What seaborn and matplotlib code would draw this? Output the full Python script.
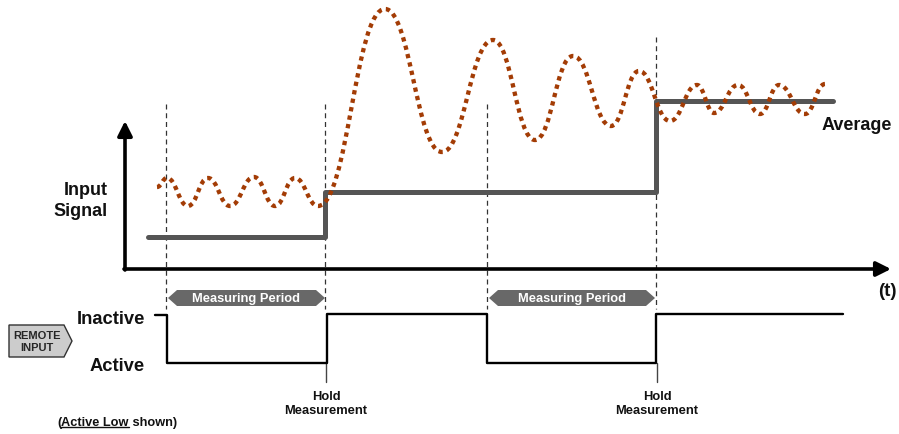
import numpy as np
import pandas as pd
import matplotlib
matplotlib.use("Agg")
import matplotlib.pyplot as plt
import seaborn as sns
from matplotlib import font_manager
from matplotlib.path import Path
from matplotlib.patches import PathPatch, Polygon

# time axis runs left to right, level axis runs top to bottom (inverted)
signal_t = [157, 167, 188, 208, 230, 254, 275, 295, 318, 385, 442, 493,
            535, 573, 611, 639, 670, 697, 714, 738, 760, 779, 805, 825]
signal_v = [188, 179, 207, 179, 207, 178, 207, 179, 207, 10, 153, 41,
            141, 57, 127, 72, 122, 86, 114, 86, 115, 86, 115, 85]

avg_t = [148, 325, 656, 833]
avg_v = [238, 193, 102, 102]

remote_t = [155, 167, 327, 487, 656, 843]
remote_v = [316, 364, 315, 364, 315, 315]

marker_t = [166, 325, 487, 656]
marker_top = [105, 105, 105, 38]
period_start = [168, 489]
period_end = [325, 655]
hold_t = [326, 657]

names = {f.name for f in font_manager.fontManager.ttflist}
fam = [f for f in ['Liberation Sans Narrow', 'Liberation Sans', 'DejaVu Sans'] if f in names]

sns.set_theme(style="white")
plt.rcParams['font.family'] = fam

fig = plt.figure(figsize=(8.99, 4.35), dpi=100)
ax = fig.add_axes([0, 0, 1, 1])
ax.set_xlim(0, 899)
ax.set_ylim(435, 0)
ax.axis('off')

# dashed time markers
for t, top in zip(marker_t, marker_top):
    ax.plot([t, t], [top, 310], color='#333333', lw=0.9, ls=(0, (4, 3)), zorder=1)
for t in hold_t:
    ax.plot([t, t], [364, 383], color='#444444', lw=1.0, zorder=1)

# axes arrows
ax.annotate('', xy=(125, 122), xytext=(125, 271),
            arrowprops=dict(arrowstyle='-|>', lw=2.6, color='black', mutation_scale=22, shrinkA=0, shrinkB=0))
ax.annotate('', xy=(891, 270), xytext=(124, 270),
            arrowprops=dict(arrowstyle='-|>', lw=2.6, color='black', mutation_scale=22, shrinkA=0, shrinkB=0))

# average step
avg_df = pd.DataFrame({'t': avg_t, 'v': avg_v})
sns.lineplot(data=avg_df, x='t', y='v', ax=ax, color='#555555', lw=3.6,
             drawstyle='steps-post', sort=False, zorder=3)

# input signal as smooth curve through the read extrema
verts = [(signal_t[0], signal_v[0])]
codes = [Path.MOVETO]
for i in range(1, len(signal_t)):
    x0, y0 = signal_t[i - 1], signal_v[i - 1]
    x1, y1 = signal_t[i], signal_v[i]
    dx = (x1 - x0) * 0.45
    verts += [(x0 + dx, y0), (x1 - dx, y1), (x1, y1)]
    codes += [Path.CURVE4] * 3
ax.add_patch(PathPatch(Path(verts, codes), fill=False, edgecolor='#A33C05',
                       lw=3.1, ls=(0, (1.0, 1.0)), capstyle='butt', zorder=4))

# remote input
rem_df = pd.DataFrame({'t': remote_t, 'v': remote_v})
sns.lineplot(data=rem_df, x='t', y='v', ax=ax, color='black', lw=1.7,
             drawstyle='steps-post', sort=False, zorder=3)

# measuring period arrows
for a, b in zip(period_start, period_end):
    yc, h, tip = 299, 8, 9
    ax.add_patch(Polygon([(a, yc), (a + tip, yc - h), (b - tip, yc - h), (b, yc),
                          (b - tip, yc + h), (a + tip, yc + h)], closed=True,
                         facecolor='#686868', edgecolor='none', zorder=5))
    ax.text((a + b) / 2, yc + 0.5, 'Measuring Period', color='white', fontsize=9.3,
            fontweight='bold', ha='center', va='center', zorder=6)

# remote input tag
ax.add_patch(Polygon([(9, 326), (64, 326), (72, 342), (64, 358), (9, 358)], closed=True,
                     facecolor='#cccccc', edgecolor='#333333', lw=1.0, zorder=5))
ax.text(37, 342, 'REMOTE\nINPUT', fontsize=8.0, fontweight='bold', ha='center',
        va='center', linespacing=1.2, zorder=6)

bold = dict(fontweight='bold', color='#111111')
ax.text(108, 201, 'Input\nSignal', fontsize=13, ha='right', va='center', linespacing=1.3, **bold)
ax.text(145, 320, 'Inactive', fontsize=13.2, ha='right', va='center', **bold)
ax.text(145, 367, 'Active', fontsize=13.2, ha='right', va='center', **bold)
ax.text(857, 125, 'Average', fontsize=13, ha='center', va='center', **bold)
ax.text(887, 292, '(t)', fontsize=13.5, ha='center', va='center', **bold)
for t in hold_t:
    ax.text(t, 404, 'Hold\nMeasurement', fontsize=9.3, ha='center', va='center',
            linespacing=1.3, **bold)

t1 = ax.text(57, 423, '(', fontsize=9.2, ha='left', va='center', **bold)
t2 = ax.annotate('Active Low', xy=(1, 0), xycoords=t1, va='bottom', ha='left', fontsize=9.2, **bold)
t3 = ax.annotate(' shown)', xy=(1, 0), xycoords=t2, va='bottom', ha='left', fontsize=9.2, **bold)
fig.canvas.draw()
bb = t2.get_window_extent()
inv = ax.transData.inverted()
(ux0, uy), (ux1, _) = inv.transform([(bb.x0, bb.y0 + 1), (bb.x1, bb.y0 + 1)])
ax.plot([ux0, ux1], [uy, uy], color='#111111', lw=1.0)

fig.savefig('out.png', dpi=100)
